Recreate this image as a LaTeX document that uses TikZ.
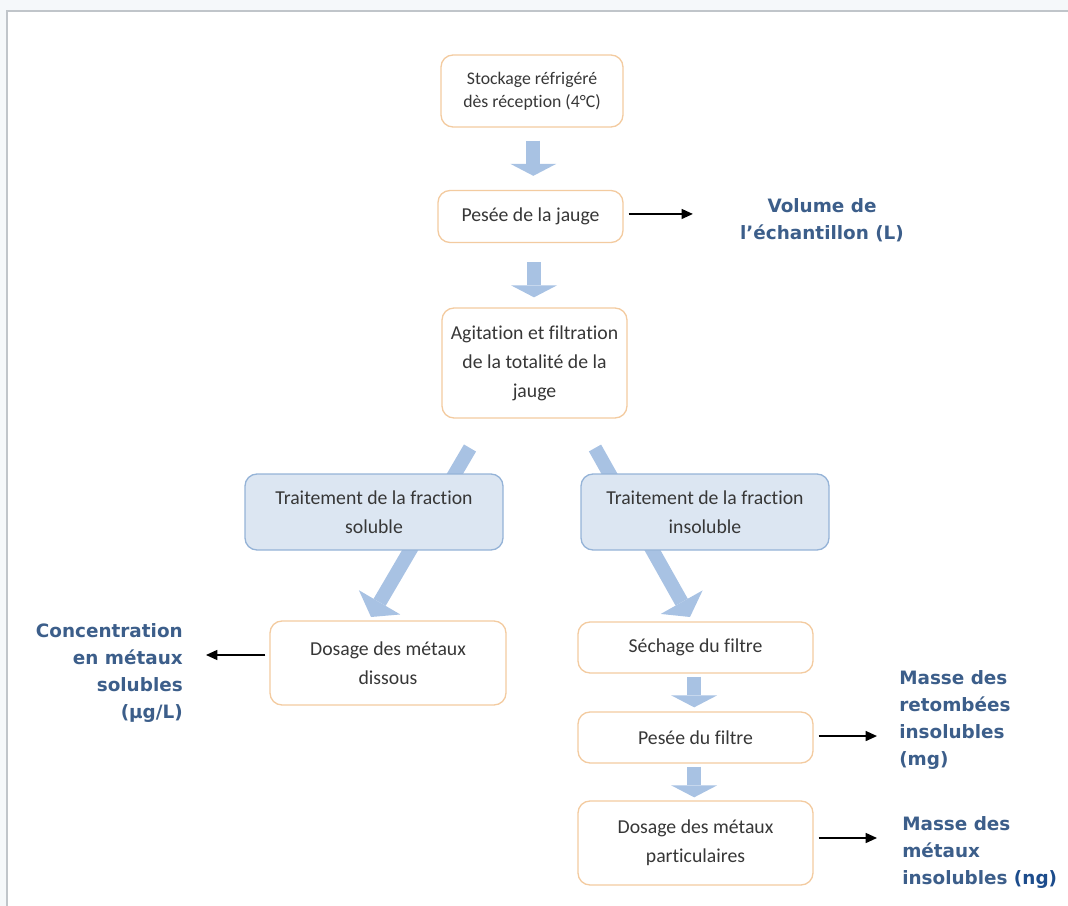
\documentclass[tikz,border=0pt]{standalone}
\usepackage{fontspec}
\newfontfamily\boxfont{Carlito}[Ligatures=NoCommon,RawFeature={-liga;-clig;-dlig}]
\newfontfamily\labfont{DejaVu Sans}
\usetikzlibrary{arrows.meta}
\definecolor{orangeb}{RGB}{243,203,160}
\definecolor{bluef}{RGB}{220,230,242}
\definecolor{blueb}{RGB}{149,179,215}
\definecolor{arrc}{RGB}{168,194,227}
\definecolor{txt}{RGB}{55,55,55}
\definecolor{labc}{RGB}{60,94,138}
\definecolor{ngc}{RGB}{28,76,140}
\definecolor{framec}{RGB}{192,197,202}
\definecolor{framebg}{RGB}{245,248,250}
\begin{document}
\begin{tikzpicture}[x=0.75pt,y=-0.75pt,
  obox/.style={draw=orangeb, line width=1pt, rounded corners=9pt, fill=white, text=txt, align=center,
    font=\boxfont\fontsize{14.8}{21.75}\selectfont, inner sep=0pt},
  bbox/.style={draw=blueb, line width=1pt, rounded corners=9pt, fill=bluef, text=txt, align=center,
    font=\boxfont\fontsize{14.8}{21.75}\selectfont, inner sep=0pt},
  lab/.style={text=labc, font=\labfont\bfseries\fontsize{13.8}{20.25}\selectfont, inner sep=0pt},
  blk/.style={draw=black, line width=1.1pt, -{Triangle[length=8.5pt,width=7.5pt]}},
  varrow/.style={draw=arrc, line width=10.5pt, -{Triangle[length=9pt,width=34.5pt,line width=0pt]}},
  darrow/.style={draw=arrc, line width=10.5pt, -{Triangle[length=12.75pt,width=36pt,line width=0pt]}}]
\useasboundingbox (0,0) rectangle (1068,906);
% frame
\fill[framebg] (0,0) rectangle (1068,11);
\fill[framebg] (0,0) rectangle (7,906);
\draw[framec, line width=1.5pt] (1068,11) -- (7,11) -- (7,906);

% diagonal block arrows (behind blue boxes)
\coordinate (l0) at (470,448);
\coordinate (l1) at (371,617);
\coordinate (r0) at (595,448);
\coordinate (r1) at (690,617);
\draw[darrow] (l0) -- (l1);
\draw[darrow] (r0) -- (r1);

% boxes
\node[obox, font=\boxfont\fontsize{13.3}{17.25}\selectfont, minimum width=136.5pt, minimum height=54pt] (b1) at (532,91) {Stockage réfrigéré\\dès réception (4°C)};
\node[obox, minimum width=138.75pt, minimum height=39pt] (b2) at (530.5,216.5) {Pesée de la jauge};
\node[obox, minimum width=138.75pt, minimum height=82.5pt] (b3) at (534.5,363) {Agitation et filtration\\de la totalité de la\\jauge};
\node[bbox, minimum width=193.5pt, minimum height=57pt] (b4) at (374,512) {Traitement de la fraction\\soluble};
\node[bbox, minimum width=186pt, minimum height=57pt] (b5) at (705,512) {Traitement de la fraction\\insoluble};
\node[obox, minimum width=177pt, minimum height=63pt] (b6) at (388,663) {Dosage des métaux\\dissous};
\node[obox, minimum width=176.25pt, minimum height=38.25pt] (b7) at (695.5,647.5) {Séchage du filtre};
\node[obox, minimum width=176.25pt, minimum height=38.25pt] (b8) at (695.5,737.5) {Pesée du filtre};
\node[obox, minimum width=176.25pt, minimum height=63pt] (b9) at (695.5,843) {Dosage des métaux\\particulaires};

% vertical block arrows
\draw[varrow, shorten <=9.75pt, shorten >=10.5pt] ([xshift=1pt]b1.south) -- ([xshift=1pt]b1.south |- b2.north);
\draw[varrow, shorten <=14.25pt, shorten >=7.5pt] ([xshift=1.5pt]b1.south |- b2.south) -- ([xshift=1.5pt]b1.south |- b3.north);
\draw[varrow, shorten <=2.25pt, shorten >=3pt] ([xshift=-1pt]b7.south) -- ([xshift=-1pt]b8.north);
\draw[varrow, shorten <=2.25pt, shorten >=2.25pt] ([xshift=-1pt]b8.south) -- ([xshift=-1pt]b9.north);

% labels
\node[lab, align=center] (vol) at (822,220.5) {Volume de\\l’échantillon (L)};
\node[lab, align=right, anchor=east] (conc) at (183,673) {Concentration\\en métaux\\solubles\\(µg/L)};
\node[lab, align=left, anchor=west] (ret) at (899,720) {Masse des\\retombées\\insolubles\\(mg)};
\node[lab, align=left, anchor=west] (met) at (902,852) {Masse des\\métaux\\insolubles {\color{ngc}(ng)}};

% black arrows
\draw[blk, shorten <=3.75pt, shorten >=35.25pt] ([yshift=1.9pt]b2.east) -- ([yshift=1.9pt]b2.east -| vol.west);
\draw[blk, shorten <=3pt, shorten >=17.25pt] ([yshift=6pt]b6.west) -- ([yshift=6pt]b6.west -| conc.east);
\draw[blk, shorten <=3.75pt, shorten >=16.5pt] ([yshift=1.1pt]b8.east) -- ([yshift=1.1pt]b8.east -| ret.west);
\draw[blk, shorten <=3.75pt, shorten >=18.75pt] ([yshift=3.75pt]b9.east) -- ([yshift=3.75pt]b9.east -| met.west);
\end{tikzpicture}
\end{document}
